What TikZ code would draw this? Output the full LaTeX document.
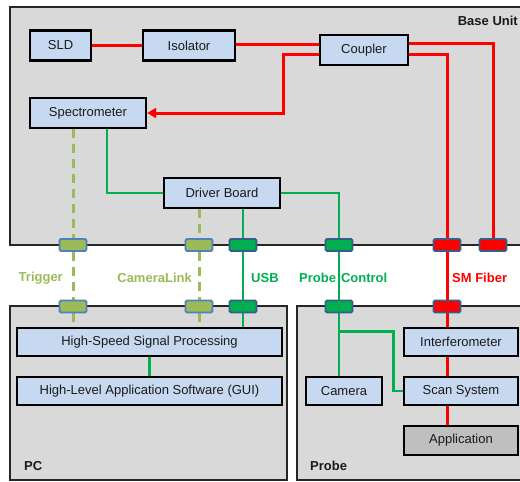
\documentclass[tikz,border=0pt]{standalone}
\usepackage{fontspec}
\setmainfont{Liberation Sans}
\usetikzlibrary{calc,arrows.meta}
\pgfdeclarelayer{bg}\pgfdeclarelayer{lines}
\pgfsetlayers{bg,lines,main}
\definecolor{boxblue}{HTML}{C6D9F1}
\definecolor{panel}{HTML}{D9D9D9}
\definecolor{appgray}{HTML}{BFBFBF}
\definecolor{lgreen}{HTML}{9BBB59}
\definecolor{dgreen}{HTML}{00B050}
\definecolor{fred}{HTML}{FF0000}
\definecolor{conblue}{HTML}{4F81BD}
\definecolor{condark}{HTML}{385D8A}
\definecolor{txt}{HTML}{1A1A1A}
\begin{document}
\begin{tikzpicture}[x=1pt,y=-1pt,
  font=\fontsize{13}{15}\selectfont,
  blk/.style={draw=black, line width=2.4pt, fill=boxblue, minimum height=30pt, inner sep=0pt, text=txt},
  con/.style={line width=1.8pt, rounded corners=1.5pt, minimum width=27pt, minimum height=12pt, inner sep=0pt},
  lcon/.style={con, fill=lgreen, draw=conblue},
  gcon/.style={con, fill=dgreen, draw=condark},
  rcon/.style={con, fill=fred, draw=condark},
  panelbox/.style={draw=black!85, line width=1.8pt, fill=panel},
  redline/.style={draw=fred, line width=3pt},
  grnline/.style={draw=dgreen, line width=2.8pt},
  lgline/.style={draw=lgreen, line width=3pt, dash pattern=on 9pt off 6pt},
  lbl/.style={font=\bfseries\fontsize{13}{15}\selectfont, inner sep=0pt}
]
\useasboundingbox (0,0) rectangle (520,482);
\clip (0,0) rectangle (520,482);

\begin{pgfonlayer}{bg}
\fill[white] (0,0) rectangle (520,482);
\draw[panelbox] (10,7) rectangle (535,245);
\draw[panelbox] (10,306) rectangle (287,480);
\draw[panelbox] (297,306) rectangle (535,480);
\end{pgfonlayer}

% Base unit blocks
\node[blk, minimum width=61pt] (sld) at (60.5,45.5) {SLD};
\node[blk, minimum width=92pt] (iso) at (189,45.5) {Isolator};
\node[blk, minimum width=88pt] (cpl) at (364,50) {Coupler};
\node[blk, minimum width=116pt] (spec) at (88,113) {Spectrometer};
\node[blk, minimum width=116pt] (drv) at (222,193) {Driver Board};

% PC blocks
\node[blk, minimum width=265pt, minimum height=28pt] (hssp) at (149.5,342) {High-Speed Signal Processing};
\node[blk, minimum width=265pt, minimum height=28pt] (gui) at (149.5,391) {High-Level Application Software (GUI)};

% Probe blocks
\node[blk, minimum width=76pt, minimum height=28pt] (cam) at (344,391) {Camera};
\node[blk, minimum width=114pt, minimum height=28pt] (ifm) at (461,342) {Interferometer};
\node[blk, minimum width=114pt, minimum height=28pt] (scan) at (461,391) {Scan System};
\node[blk, fill=appgray, minimum width=114pt, minimum height=29pt] (app) at (461,440.5) {Application};

% Connectors
\node[lcon] (tr1) at (73,245) {};
\node[lcon] (tr2) at (73,306.5) {};
\node[lcon] (cl1) at (199,245) {};
\node[lcon] (cl2) at (199,306.5) {};
\node[gcon] (usb1) at (243,245) {};
\node[gcon] (usb2) at (243,306.5) {};
\node[gcon] (pc1) at (339,245) {};
\node[gcon] (pc2) at (339,306.5) {};
\node[rcon] (sm1) at (447,245) {};
\node[rcon] (sm1b) at (447,306.5) {};
\node[rcon] (sm2) at (493,245) {};

% Labels
\node[lbl, text=lgreen, anchor=east] (ltr) at (63,278) {Trigger};
\node[lbl, text=lgreen, anchor=east] (lcl) at (192,278) {CameraLink};
\node[lbl, text=dgreen, anchor=west] (lusb) at (251,278) {USB};
\node[lbl, text=dgreen, anchor=west] (lprc) at (299,278) {Probe\hspace{5pt}Control};
\node[lbl, text=fred, anchor=west] (lsm) at (452,278) {SM Fiber};
\node[lbl, text=txt, anchor=east] (lbase) at (518,21) {Base Unit};
\node[lbl, text=txt, anchor=west] (lpcx) at (24,466) {PC};
\node[lbl, text=txt, anchor=west] (lprobe) at (310,466) {Probe};

\begin{pgfonlayer}{lines}
% red optical paths
\draw[redline] (sld) -- (iso);
\draw[redline] ($(iso.east)+(0,-1.5)$) -- ($(iso.east -| cpl.west)+(0,-1.5)$);
\draw[redline, -{Triangle[length=9pt,width=10pt]}] ($(cpl.west)+(0,4)$) -| ($(spec.east)+(136,0)$) -- (spec.east);
\draw[redline] ($(cpl.east)+(0,-7)$) -| (sm2);
\draw[redline] ($(cpl.east)+(0,4)$) -| (sm1) -- (sm1b) -- (sm1b |- app.north);
% green electrical
\draw[grnline] ($(spec.south)+(19,0)$) |- (drv.west);
\draw[grnline] (drv.south -| usb1) -- (usb1) -- (usb2) -- (usb2 |- hssp.north);
\draw[grnline] (drv.east) -| (pc1) -- (pc2) -- (pc2 |- cam.north);
\draw[grnline] ($(pc2)+(0,25)$) -| ($(scan.west)+(-9,0)$) -- (scan.west);
\draw[grnline] (hssp) -- (gui);
% light green dashed
\draw[lgline] (spec.south -| tr1) -- (tr1) -- (tr2) -- (tr2 |- hssp.north);
\draw[lgline] (drv.south -| cl1) -- (cl1) -- (cl2) -- (cl2 |- hssp.north);
\end{pgfonlayer}
\end{tikzpicture}
\end{document}
